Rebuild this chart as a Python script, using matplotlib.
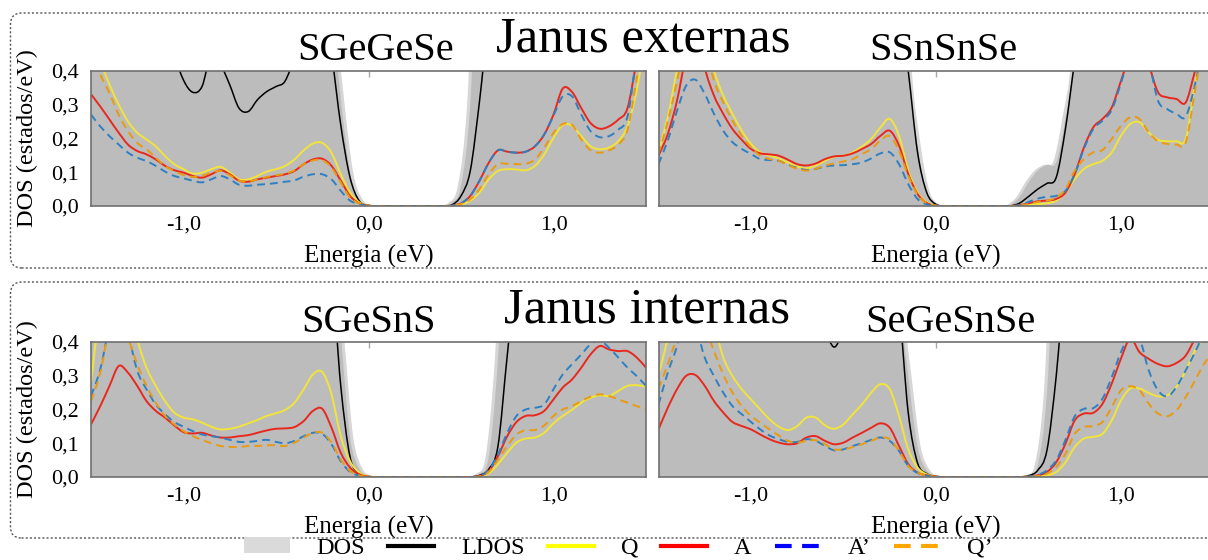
import numpy as np
import matplotlib
matplotlib.use("Agg")
import matplotlib.pyplot as plt
from matplotlib import transforms
from matplotlib.patches import FancyBboxPatch, Patch, PathPatch
from matplotlib.path import Path
from matplotlib.lines import Line2D

plt.rcParams['font.family'] = ['Liberation Serif', 'DejaVu Serif']

# energy grid (eV), common to every curve
energy = np.round(np.linspace(-1.5, 1.5, 61), 2)

# ---------------- SGeGeSe ----------------
sgegese_dos = [1.0, 1.0, 1.0, 1.0, 1.0, 1.0, 1.0, 1.0, 1.0, 1.0,
               1.0, 1.0, 1.0, 1.0, 1.0, 1.0, 1.0, 1.0, 1.0, 1.0,
               1.0, 1.0, 1.0, 1.0, 1.0, 1.0, 0.6, 0.32, 0.1, 0.02,
               0.002, 0, 0, 0, 0, 0, 0, 0, 0.002, 0.01,
               0.06, 0.3, 0.9, 1.0, 1.0, 1.0, 1.0, 1.0, 1.0, 1.0,
               1.0, 1.0, 1.0, 1.0, 1.0, 1.0, 1.0, 1.0, 1.0, 1.0,
               1.0]
sgegese_ldos = [0.6, 0.6, 0.6, 0.6, 0.6, 0.6, 0.6, 0.6, 0.55, 0.45,
                0.373, 0.337, 0.354, 0.45, 0.42, 0.359, 0.29, 0.28, 0.315, 0.339,
                0.354, 0.371, 0.45, 0.6, 0.6, 0.6, 0.45, 0.24, 0.085, 0.015,
                0.002, 0, 0, 0, 0, 0, 0, 0, 0, 0.003,
                0.03, 0.104, 0.31, 0.55, 0.6, 0.6, 0.6, 0.6, 0.6, 0.6,
                0.6, 0.6, 0.6, 0.6, 0.6, 0.6, 0.6, 0.6, 0.6, 0.6,
                0.6]
sgegese_q = [0.52, 0.43, 0.36, 0.30, 0.25, 0.217, 0.197, 0.177, 0.148, 0.124,
             0.109, 0.096, 0.099, 0.109, 0.116, 0.099, 0.079, 0.079, 0.089, 0.102,
             0.109, 0.119, 0.138, 0.165, 0.185, 0.187, 0.158, 0.094, 0.040, 0.011,
             0.001, 0, 0, 0, 0, 0, 0, 0, 0, 0,
             0.004, 0.016, 0.04, 0.079, 0.104, 0.109, 0.108, 0.106, 0.119, 0.153,
             0.202, 0.240, 0.238, 0.207, 0.177, 0.168, 0.173, 0.192, 0.236, 0.344,
             0.5]
sgegese_a = [0.331, 0.295, 0.256, 0.217, 0.182, 0.163, 0.153, 0.138, 0.119, 0.106,
             0.099, 0.089, 0.084, 0.094, 0.106, 0.094, 0.075, 0.072, 0.079, 0.084,
             0.089, 0.094, 0.104, 0.124, 0.138, 0.140, 0.119, 0.075, 0.030, 0.008,
             0.001, 0, 0, 0, 0, 0, 0, 0, 0, 0.001,
             0.008, 0.03, 0.075, 0.128, 0.165, 0.161, 0.158, 0.161, 0.177, 0.212,
             0.271, 0.348, 0.338, 0.29, 0.246, 0.229, 0.236, 0.256, 0.29, 0.43,
             0.55]
sgegese_a2 = [0.271, 0.236, 0.207, 0.182, 0.158, 0.143, 0.133, 0.119, 0.102, 0.089,
              0.082, 0.075, 0.070, 0.079, 0.089, 0.079, 0.063, 0.060, 0.063, 0.065,
              0.068, 0.072, 0.076, 0.087, 0.094, 0.094, 0.079, 0.045, 0.016, 0.006,
              0, 0, 0, 0, 0, 0, 0, 0, 0, 0.001,
              0.008, 0.03, 0.075, 0.128, 0.165, 0.161, 0.158, 0.161, 0.177, 0.212,
              0.268, 0.325, 0.325, 0.271, 0.222, 0.204, 0.207, 0.226, 0.265, 0.44,
              0.55]
sgegese_q2 = [0.46, 0.39, 0.334, 0.27, 0.222, 0.187, 0.168, 0.143, 0.119, 0.104,
              0.092, 0.086, 0.089, 0.099, 0.104, 0.091, 0.075, 0.073, 0.079, 0.086,
              0.091, 0.096, 0.106, 0.124, 0.135, 0.136, 0.114, 0.070, 0.025, 0.008,
              0.001, 0, 0, 0, 0, 0, 0, 0, 0, 0.001,
              0.006, 0.02, 0.05, 0.094, 0.124, 0.125, 0.124, 0.125, 0.138, 0.173,
              0.217, 0.243, 0.241, 0.197, 0.165, 0.158, 0.165, 0.182, 0.226, 0.378,
              0.55]

# ---------------- SSnSnSe ----------------
ssnsnse_dos = [1.0, 1.0, 1.0, 1.0, 1.0, 1.0, 1.0, 1.0, 1.0, 1.0,
               1.0, 1.0, 1.0, 1.0, 1.0, 1.0, 1.0, 1.0, 1.0, 1.0,
               1.0, 1.0, 1.0, 1.0, 1.0, 1.0, 1.0, 0.42, 0.18, 0.04,
               0.005, 0, 0, 0, 0, 0, 0, 0, 0.003, 0.025,
               0.07, 0.105, 0.122, 0.13, 0.26, 0.45, 1.0, 1.0, 1.0, 1.0,
               1.0, 1.0, 1.0, 1.0, 1.0, 1.0, 1.0, 1.0, 1.0, 1.0,
               1.0]
ssnsnse_ldos = [0.6, 0.6, 0.6, 0.6, 0.6, 0.6, 0.6, 0.6, 0.6, 0.6,
                0.6, 0.6, 0.6, 0.6, 0.6, 0.6, 0.6, 0.6, 0.6, 0.6,
                0.6, 0.6, 0.6, 0.6, 0.6, 0.6, 0.6, 0.40, 0.16, 0.04,
                0.005, 0, 0, 0, 0, 0, 0, 0, 0, 0.008,
                0.028, 0.05, 0.067, 0.085, 0.23, 0.43, 0.6, 0.6, 0.6, 0.6,
                0.6, 0.6, 0.6, 0.6, 0.6, 0.6, 0.6, 0.6, 0.6, 0.6,
                0.6]
ssnsnse_q = [0.159, 0.263, 0.40, 0.5, 0.55, 0.5, 0.40, 0.327, 0.273, 0.223,
             0.184, 0.159, 0.149, 0.141, 0.129, 0.117, 0.112, 0.12, 0.134, 0.146,
             0.149, 0.159, 0.176, 0.199, 0.233, 0.258, 0.208, 0.105, 0.04, 0.011,
             0.001, 0, 0, 0, 0, 0, 0, 0, 0, 0.001,
             0.004, 0.006, 0.008, 0.016, 0.04, 0.08, 0.11, 0.124, 0.134, 0.159,
             0.208, 0.243, 0.248, 0.218, 0.196, 0.192, 0.192, 0.199, 0.36, 0.5,
             0.6]
ssnsnse_a = [0.149, 0.213, 0.312, 0.45, 0.55, 0.41, 0.327, 0.273, 0.228, 0.196,
             0.169, 0.156, 0.153, 0.149, 0.137, 0.124, 0.12, 0.126, 0.139, 0.147,
             0.149, 0.156, 0.169, 0.184, 0.208, 0.223, 0.179, 0.095, 0.036, 0.009,
             0.001, 0, 0, 0, 0, 0, 0, 0, 0, 0.002,
             0.008, 0.014, 0.016, 0.021, 0.04, 0.095, 0.174, 0.233, 0.258, 0.292,
             0.371, 0.45, 0.5, 0.42, 0.337, 0.322, 0.317, 0.307, 0.40, 0.5,
             0.6]
ssnsnse_a2 = [0.124, 0.194, 0.282, 0.357, 0.374, 0.332, 0.273, 0.223, 0.189, 0.169,
              0.154, 0.139, 0.136, 0.134, 0.122, 0.113, 0.107, 0.11, 0.117, 0.12,
              0.121, 0.124, 0.129, 0.141, 0.156, 0.159, 0.124, 0.065, 0.021, 0.005,
              0, 0, 0, 0, 0, 0, 0, 0, 0, 0.002,
              0.012, 0.022, 0.027, 0.03, 0.045, 0.095, 0.17, 0.228, 0.253, 0.285,
              0.365, 0.45, 0.5, 0.43, 0.312, 0.287, 0.273, 0.265, 0.36, 0.5,
              0.6]
ssnsnse_q2 = [0.155, 0.25, 0.37, 0.5, 0.52, 0.48, 0.371, 0.307, 0.253, 0.208,
              0.174, 0.149, 0.139, 0.134, 0.122, 0.11, 0.105, 0.11, 0.12, 0.126,
              0.132, 0.139, 0.154, 0.169, 0.194, 0.207, 0.164, 0.09, 0.034, 0.009,
              0.001, 0, 0, 0, 0, 0, 0, 0, 0, 0.001,
              0.006, 0.012, 0.016, 0.025, 0.05, 0.105, 0.139, 0.159, 0.166, 0.199,
              0.238, 0.263, 0.258, 0.218, 0.192, 0.184, 0.182, 0.189, 0.342, 0.5,
              0.6]

# ---------------- SGeSnS ----------------
sgesns_dos = [1.0, 1.0, 1.0, 1.0, 1.0, 1.0, 1.0, 1.0, 1.0, 1.0,
              1.0, 1.0, 1.0, 1.0, 1.0, 1.0, 1.0, 1.0, 1.0, 1.0,
              1.0, 1.0, 1.0, 1.0, 1.0, 1.0, 0.7, 0.42, 0.12, 0.025,
              0.003, 0, 0, 0, 0, 0, 0, 0, 0, 0,
              0, 0.001, 0.01, 0.06, 0.35, 0.9, 1.0, 1.0, 1.0, 1.0,
              1.0, 1.0, 1.0, 1.0, 1.0, 1.0, 1.0, 1.0, 1.0, 1.0,
              1.0]
sgesns_ldos = [0.6, 0.6, 0.6, 0.6, 0.6, 0.6, 0.6, 0.6, 0.6, 0.6,
               0.6, 0.6, 0.6, 0.6, 0.6, 0.6, 0.6, 0.6, 0.6, 0.6,
               0.6, 0.6, 0.6, 0.6, 0.6, 0.6, 0.6, 0.27, 0.06, 0.011,
               0.002, 0, 0, 0, 0, 0, 0, 0, 0, 0,
               0, 0, 0.005, 0.023, 0.092, 0.36, 0.6, 0.6, 0.6, 0.6,
               0.6, 0.6, 0.6, 0.6, 0.6, 0.6, 0.6, 0.6, 0.6, 0.6,
               0.6]
sgesns_q = [0.28, 0.5, 0.6, 0.6, 0.55, 0.41, 0.324, 0.27, 0.225, 0.191,
            0.176, 0.171, 0.161, 0.149, 0.141, 0.143, 0.149, 0.159, 0.169, 0.181,
            0.189, 0.199, 0.22, 0.26, 0.304, 0.311, 0.245, 0.121, 0.047, 0.013,
            0.002, 0, 0, 0, 0, 0, 0, 0, 0, 0,
            0, 0, 0.001, 0.011, 0.038, 0.072, 0.102, 0.114, 0.117, 0.131,
            0.159, 0.181, 0.199, 0.22, 0.235, 0.242, 0.24, 0.255, 0.27, 0.272,
            0.268]
sgesns_a = [0.156, 0.21, 0.27, 0.329, 0.309, 0.27, 0.225, 0.196, 0.176, 0.153,
            0.133, 0.129, 0.131, 0.123, 0.117, 0.117, 0.121, 0.124, 0.131, 0.138,
            0.143, 0.144, 0.148, 0.166, 0.196, 0.202, 0.146, 0.072, 0.028, 0.008,
            0.001, 0, 0, 0, 0, 0, 0, 0, 0, 0,
            0, 0, 0.003, 0.018, 0.062, 0.121, 0.163, 0.181, 0.183, 0.196,
            0.23, 0.265, 0.289, 0.324, 0.363, 0.388, 0.378, 0.373, 0.373, 0.354,
            0.324]
sgesns_a2 = [0.24, 0.319, 0.45, 0.55, 0.43, 0.315, 0.26, 0.215, 0.186, 0.163,
             0.149, 0.136, 0.126, 0.121, 0.117, 0.11, 0.104, 0.104, 0.107, 0.11,
             0.104, 0.1, 0.107, 0.121, 0.131, 0.128, 0.097, 0.047, 0.015, 0.004,
             0, 0, 0, 0, 0, 0, 0, 0, 0, 0,
             0, 0, 0.003, 0.02, 0.067, 0.131, 0.181, 0.2, 0.205, 0.215,
             0.26, 0.304, 0.334, 0.363, 0.393, 0.405, 0.383, 0.354, 0.324, 0.299,
             0.27]
sgesns_q2 = [0.225, 0.309, 0.45, 0.55, 0.42, 0.334, 0.27, 0.22, 0.181, 0.156,
             0.136, 0.121, 0.11, 0.1, 0.092, 0.089, 0.089, 0.092, 0.092, 0.094,
             0.094, 0.092, 0.102, 0.117, 0.131, 0.131, 0.102, 0.052, 0.018, 0.005,
             0, 0, 0, 0, 0, 0, 0, 0, 0, 0,
             0, 0, 0.002, 0.015, 0.052, 0.092, 0.126, 0.139, 0.139, 0.153,
             0.181, 0.2, 0.21, 0.225, 0.238, 0.245, 0.24, 0.23, 0.22, 0.21,
             0.199]

# ---------------- SeGeSnSe ----------------
segesnse_dos = [1.0, 1.0, 1.0, 1.0, 1.0, 1.0, 1.0, 1.0, 1.0, 1.0,
                1.0, 1.0, 1.0, 1.0, 1.0, 1.0, 1.0, 1.0, 1.0, 1.0,
                1.0, 1.0, 1.0, 1.0, 1.0, 1.0, 0.55, 0.3, 0.09, 0.02,
                0.002, 0, 0, 0, 0, 0, 0, 0, 0, 0,
                0.006, 0.035, 0.25, 0.8, 1.0, 1.0, 1.0, 1.0, 1.0, 1.0,
                1.0, 1.0, 1.0, 1.0, 1.0, 1.0, 1.0, 1.0, 1.0, 1.0,
                1.0]
segesnse_ldos = [0.6, 0.6, 0.6, 0.6, 0.6, 0.6, 0.6, 0.6, 0.6, 0.6,
                 0.6, 0.6, 0.6, 0.6, 0.6, 0.6, 0.6, 0.6, 0.45, 0.385,
                 0.45, 0.6, 0.6, 0.6, 0.6, 0.6, 0.5, 0.19, 0.042, 0.01,
                 0.002, 0, 0, 0, 0, 0, 0, 0, 0, 0,
                 0.004, 0.02, 0.08, 0.3, 0.6, 0.6, 0.6, 0.6, 0.6, 0.6,
                 0.6, 0.6, 0.6, 0.6, 0.6, 0.6, 0.6, 0.6, 0.6, 0.6,
                 0.6]
segesnse_q = [0.304, 0.41, 0.55, 0.6, 0.55, 0.5, 0.45, 0.354, 0.299, 0.26,
              0.23, 0.2, 0.171, 0.149, 0.139, 0.151, 0.176, 0.176, 0.153, 0.143,
              0.156, 0.186, 0.215, 0.25, 0.275, 0.26, 0.181, 0.082, 0.028, 0.008,
              0.001, 0, 0, 0, 0, 0, 0, 0, 0, 0,
              0.001, 0.002, 0.005, 0.015, 0.044, 0.089, 0.114, 0.119, 0.128, 0.168,
              0.227, 0.262, 0.262, 0.249, 0.239, 0.242, 0.267, 0.316, 0.375, 0.415,
              0.45]
segesnse_a = [0.141, 0.205, 0.26, 0.30, 0.302, 0.27, 0.225, 0.191, 0.163, 0.151,
              0.141, 0.126, 0.112, 0.102, 0.097, 0.1, 0.117, 0.121, 0.107, 0.097,
              0.102, 0.117, 0.131, 0.146, 0.159, 0.146, 0.092, 0.038, 0.013, 0.005,
              0.001, 0, 0, 0, 0, 0, 0, 0, 0, 0,
              0.001, 0.005, 0.015, 0.044, 0.099, 0.168, 0.188, 0.19, 0.217, 0.277,
              0.351, 0.41, 0.37, 0.35, 0.335, 0.328, 0.338, 0.36, 0.41, 0.46,
              0.5]
segesnse_a2 = [0.215, 0.309, 0.388, 0.5, 0.45, 0.354, 0.299, 0.25, 0.21, 0.186,
               0.163, 0.141, 0.123, 0.112, 0.104, 0.104, 0.112, 0.107, 0.092, 0.079,
               0.082, 0.092, 0.1, 0.11, 0.117, 0.107, 0.077, 0.033, 0.012, 0.004,
               0, 0, 0, 0, 0, 0, 0, 0, 0, 0,
               0.001, 0.006, 0.02, 0.05, 0.11, 0.18, 0.202, 0.204, 0.232, 0.296,
               0.37, 0.42, 0.41, 0.316, 0.257, 0.239, 0.267, 0.316, 0.37, 0.43,
               0.5]
segesnse_q2 = [0.262, 0.334, 0.42, 0.55, 0.55, 0.45, 0.373, 0.304, 0.25, 0.21,
               0.181, 0.161, 0.141, 0.123, 0.107, 0.102, 0.107, 0.109, 0.097, 0.082,
               0.082, 0.089, 0.097, 0.107, 0.117, 0.112, 0.077, 0.033, 0.013, 0.004,
               0, 0, 0, 0, 0, 0, 0, 0, 0, 0,
               0.001, 0.003, 0.01, 0.03, 0.069, 0.128, 0.148, 0.151, 0.163, 0.207,
               0.257, 0.269, 0.257, 0.217, 0.188, 0.18, 0.198, 0.237, 0.286, 0.336,
               0.37]

panel_names = ["SGeGeSe", "SSnSnSe", "SGeSnS", "SeGeSnSe"]
group_titles = ["Janus externas", "Janus internas"]
x_ticks = [-1.0, 0.0, 1.0]
x_tick_labels = ["-1,0", "0,0", "1,0"]
y_ticks = [0.0, 0.1, 0.2, 0.3, 0.4]
y_tick_labels = ["0,0", "0,1", "0,2", "0,3", "0,4"]
series_labels = ["DOS", "LDOS", "Q", "A", "A\u2019", "Q\u2019"]

panels = [
    (sgegese_dos, sgegese_ldos, sgegese_q, sgegese_a, sgegese_a2, sgegese_q2),
    (ssnsnse_dos, ssnsnse_ldos, ssnsnse_q, ssnsnse_a, ssnsnse_a2, ssnsnse_q2),
    (sgesns_dos, sgesns_ldos, sgesns_q, sgesns_a, sgesns_a2, sgesns_q2),
    (segesnse_dos, segesnse_ldos, segesnse_q, segesnse_a, segesnse_a2, segesnse_q2),
]

DOS_FILL = "#bcbcbc"
DOS_EDGE = "#d6d6d6"
C_Q, C_A, C_A2, C_Q2 = "#f2e43a", "#e8281e", "#2f80c2", "#e89a10"


def bezier_curve(x, y):
    """Cubic Bezier segments passing through every sample (Catmull-Rom tangents)."""
    p = np.column_stack([x, np.asarray(y, dtype=float)])
    n = len(p)
    verts = [p[0]]
    for i in range(n - 1):
        p0 = p[i - 1] if i > 0 else p[i]
        p3 = p[i + 2] if i + 2 < n else p[i + 1]
        c1 = p[i] + (p[i + 1] - p0) / 6.0
        c2 = p[i + 1] - (p3 - p[i]) / 6.0
        verts.extend([c1, c2, p[i + 1]])
    codes = [Path.MOVETO] + [Path.CURVE4] * (3 * (n - 1))
    return np.array(verts), codes


def smooth_line(ax, x, y, **kw):
    verts, codes = bezier_curve(x, y)
    ax.add_patch(PathPatch(Path(verts, codes), fill=False, **kw))


def smooth_fill(ax, x, y, transform=None, **kw):
    verts, codes = bezier_curve(x, y)
    verts = np.vstack([[x[0], 0.0], verts, [x[-1], 0.0], [x[0], 0.0]])
    codes = [Path.MOVETO, Path.LINETO] + codes[1:] + [Path.LINETO, Path.CLOSEPOLY]
    patch = PathPatch(Path(verts, codes), lw=0, **kw)
    if transform is not None:
        patch.set_transform(transform)
    ax.add_patch(patch)


W, H = 1208, 560
fig = plt.figure(figsize=(W / 100, H / 100), dpi=100)

# axes placement in pixels: (left, top) of each plot frame
frame_w, frame_h = 555, 135
frames = [(91, 71), (658.5, 71), (91, 342), (658.5, 342)]

for k, ((fx, fy), name, data) in enumerate(zip(frames, panel_names, panels)):
    ax = fig.add_axes([fx / W, 1 - (fy + frame_h) / H, frame_w / W, frame_h / H])
    ax.set_xlim(-1.5, 1.5)
    ax.set_ylim(0, 0.4)
    dos, ldos, q, a, a2, q2 = data
    # total DOS: light rim around the gap, then the main fill
    for dx in (-0.017, 0.017):
        tr = transforms.Affine2D().translate(dx, 0) + ax.transData
        smooth_fill(ax, energy, dos, transform=tr, facecolor=DOS_EDGE, zorder=1)
    smooth_fill(ax, energy, dos, facecolor=DOS_FILL, zorder=2)
    smooth_line(ax, energy, ldos, edgecolor="black", lw=1.1, zorder=3)
    smooth_line(ax, energy, q, edgecolor=C_Q, lw=1.4, zorder=4)
    smooth_line(ax, energy, a, edgecolor=C_A, lw=1.4, zorder=5)
    smooth_line(ax, energy, a2, edgecolor=C_A2, lw=1.4, ls=(0, (4, 2.6)), zorder=6)
    smooth_line(ax, energy, q2, edgecolor=C_Q2, lw=1.4, ls=(0, (4, 2.6)), zorder=7)

    ax.set_xticks(x_ticks)
    ax.set_xticklabels(x_tick_labels)
    ax.set_yticks(y_ticks)
    ax.set_yticklabels(y_tick_labels)
    ax.tick_params(axis="x", which="both", direction="in", length=4, width=1,
                   color="#a8a8a8", top=True, bottom=False, labelsize=16, pad=7)
    ax.tick_params(axis="y", length=0, labelsize=16, pad=9)
    for sp in ax.spines.values():
        sp.set_color("#707070")
        sp.set_linewidth(1.2)
        sp.set_zorder(10)
    ax.set_xlabel("Energia (eV)", fontsize=18, labelpad=7)
    if k % 2 == 0:
        ax.set_ylabel("DOS (estados/eV)", fontsize=17.5, labelpad=9)
    else:
        ax.tick_params(axis="y", labelleft=False)

# panel titles
title_pos = [(376, 51), (943, 51), (369, 322), (950, 322)]
for (tx, ty), name in zip(title_pos, panel_names):
    fig.text(tx / W, 1 - ty / H, name, fontsize=29, ha="center", va="center")
for (tx, ty), name in zip([(643, 39), (647, 310)], group_titles):
    fig.text(tx / W, 1 - ty / H, name, fontsize=36.5, ha="center", va="center")

# dotted rounded boxes around each row
for top, bottom in [(13, 268), (282, 538)]:
    box = FancyBboxPatch((10.5, H - bottom), 1220, bottom - top,
                         boxstyle="round,pad=0,rounding_size=11",
                         transform=transforms.IdentityTransform(),
                         fill=False, edgecolor="#555555", lw=1.0,
                         ls=(0, (1.5, 1.5)))
    fig.add_artist(box)

handles = [
    Patch(facecolor="#dadada", edgecolor="none"),
    Line2D([0], [0], color="black", lw=3),
    Line2D([0], [0], color="#ffff00", lw=3),
    Line2D([0], [0], color="#ff0000", lw=3),
    Line2D([0], [0], color="#0000ff", lw=3, ls=(0, (4, 2.5))),
    Line2D([0], [0], color="#ffa500", lw=3, ls=(0, (4, 2.5))),
]
fig.legend(handles, series_labels, loc="center", bbox_to_anchor=(618 / W, 1 - 548 / H),
           ncol=6, frameon=False, fontsize=17.5, handlelength=1.9,
           handletextpad=1.1, columnspacing=0.95, handleheight=0.6,
           borderpad=0.1)

fig.savefig("out.png", dpi=100)
